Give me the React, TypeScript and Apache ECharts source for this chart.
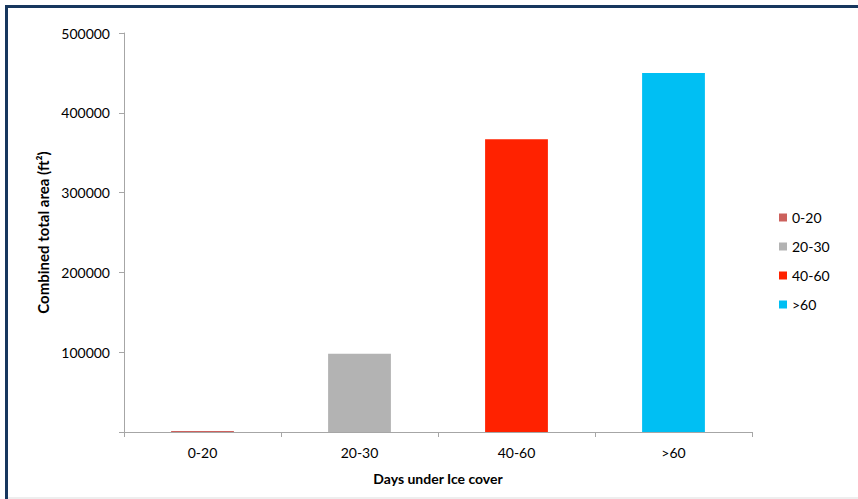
import React, { useEffect, useRef } from "react";
import * as echarts from "echarts";

const categories = ["0-20", "20-30", "40-60", ">60"];
const values = [1200, 98000, 367000, 450000];
const colors = ["#CC615D", "#B3B3B3", "#FF2200", "#00BFF3"];
const yTicks = { min: 0, max: 500000, interval: 100000 };

export default function App() {
  const ref = useRef<HTMLDivElement>(null);
  useEffect(() => {
    if (!ref.current) return;
    const chart = echarts.init(ref.current, null, { renderer: "svg" });
    const font = "Lato, 'Open Sans', sans-serif";
    const series = categories.map((name, i) => ({
      name,
      type: "bar",
      stack: "all",
      barWidth: "40%",
      itemStyle: { color: colors[i] },
      data: categories.map((_, j) => (j === i ? values[i] : "-")),
    }));
    chart.setOption({
      animation: false,
      backgroundColor: "#ffffff",
      textStyle: { fontFamily: font },
      grid: { left: 124, right: 106, top: 33, bottom: 67 },
      legend: {
        orient: "vertical",
        left: 774,
        top: 205,
        itemWidth: 8,
        itemHeight: 8,
        itemGap: 14,
        icon: "rect",
        textStyle: { fontFamily: font, fontSize: 14, color: "#000", lineHeight: 15 },
        data: categories,
      },
      xAxis: {
        type: "category",
        data: categories,
        name: "Days under Ice cover",
        nameLocation: "middle",
        nameGap: 39,
        nameTextStyle: { fontFamily: font, fontSize: 14, fontWeight: "bold", color: "#000" },
        axisLine: { show: true, lineStyle: { color: "#A6A6A6", width: 1 } },
        axisTick: { show: true, length: 5, lineStyle: { color: "#A6A6A6" } },
        axisLabel: { fontFamily: font, fontSize: 14, color: "#000", margin: 13 },
        splitLine: { show: false },
      },
      yAxis: {
        type: "value",
        min: yTicks.min,
        max: yTicks.max,
        interval: yTicks.interval,
        name: "Combined total area (ft\u00B2)",
        nameLocation: "middle",
        nameGap: 72,
        nameRotate: 90,
        nameTextStyle: { fontFamily: font, fontSize: 15, fontWeight: "bold", color: "#000" },
        axisLine: { show: true, lineStyle: { color: "#A6A6A6", width: 1 } },
        axisTick: { show: true, length: 5, lineStyle: { color: "#A6A6A6" } },
        axisLabel: {
          fontFamily: font,
          fontSize: 14,
          color: "#000",
          margin: 14,
          formatter: (v: number) => (v === 0 ? "" : String(v)),
        },
        splitLine: { show: false },
      },
      graphic: [
        { type: "rect", shape: { x: 5, y: 5, width: 853, height: 3 }, style: { fill: "#17375E" } },
        { type: "rect", shape: { x: 5, y: 5, width: 3, height: 494 }, style: { fill: "#17375E" } },
        { type: "rect", shape: { x: 8, y: 497, width: 850, height: 2 }, style: { fill: "#EEEEEE" } },
      ],
      series,
    });
    return () => chart.dispose();
  }, []);
  return (
    <div
      ref={ref}
      style={{ position: "fixed", left: 0, top: 0, width: 858, height: 499 }}
    />
  );
}
